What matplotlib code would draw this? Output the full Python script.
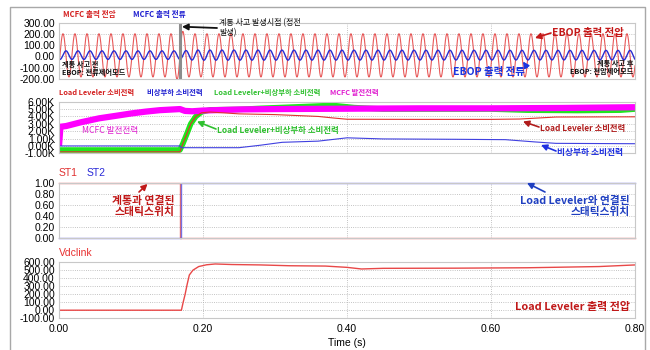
import numpy as np
import matplotlib
matplotlib.use('Agg')
import matplotlib.pyplot as plt
from matplotlib.lines import Line2D

plt.rcParams['font.family'] = ['Liberation Sans', 'Noto Sans CJK KR']
KR = ['Noto Sans CJK KR', 'Liberation Sans']

# ---------------- data ----------------
x_ticks = [0.0, 0.2, 0.4, 0.6, 0.8]
fault_time = 0.168

# panel 1: AC waveforms (60 Hz), envelopes
ac_freq_hz = 60.0
volt_env_t = [0.0, 0.160, 0.168, 0.176, 0.8]
volt_env_amp = [192, 192, 235, 192, 192]
volt_offset = 10
volt_first_peak = 0.0055
curr_env_t = [0.0, 0.168, 0.190, 0.8]
curr_env_amp = [38, 38, 45, 42]
curr_offset = 12
curr_first_peak = 0.0097

# panel 2: powers
mcfc_t = [0.0, 0.002, 0.01, 0.03, 0.056, 0.08, 0.10, 0.12, 0.14, 0.168, 0.175, 0.185, 0.20, 0.25, 0.30, 0.40, 0.50, 0.60, 0.70, 0.80]
mcfc_p = [0, 2600, 2700, 3200, 3750, 4100, 4400, 4650, 4850, 5000, 4750, 4700, 4800, 4950, 5000, 5050, 5100, 5100, 5150, 5250]
total_t = [0.0, 0.168, 0.172, 0.177, 0.183, 0.19, 0.198, 0.21, 0.25, 0.28, 0.33, 0.38, 0.41, 0.45, 0.60, 0.65, 0.72, 0.78, 0.80]
total_p = [-550, -550, 300, 1500, 3000, 4000, 4600, 4900, 4950, 5100, 5300, 5500, 5200, 5000, 5000, 4850, 4800, 4850, 5000]
ll_t = [0.0, 0.168, 0.172, 0.177, 0.183, 0.19, 0.198, 0.21, 0.25, 0.30, 0.36, 0.38, 0.40, 0.50, 0.60, 0.64, 0.69, 0.80]
ll_p = [-800, -800, 300, 1500, 3000, 4000, 4500, 4600, 4350, 4250, 4000, 3800, 3620, 3600, 3600, 3650, 3920, 3950]
em_t = [0.0, 0.168, 0.170, 0.25, 0.28, 0.31, 0.36, 0.40, 0.45, 0.55, 0.62, 0.66, 0.69, 0.80]
em_p = [0, 0, -240, -240, 100, 490, 650, 1100, 950, 900, 850, 550, 350, 300]

# panel 3: static switches
st1_t = [0.0, 0.168, 0.168, 0.8]
st1 = [1, 1, 0, 0]
st2_t = [0.0, 0.1695, 0.1695, 0.8]
st2 = [0, 0, 1, 1]

# panel 4: DC link voltage
vdc_t = [0.0, 0.170, 0.1725, 0.175, 0.178, 0.181, 0.186, 0.194, 0.205, 0.217, 0.24, 0.28, 0.32, 0.37, 0.40, 0.42, 0.45, 0.55, 0.65, 0.75, 0.80]
vdc = [0, 0, 100, 190, 320, 435, 495, 540, 562, 572, 565, 560, 550, 546, 530, 510, 518, 520, 525, 540, 560]

# ---------------- figure ----------------
W, H = 650, 350
fig = plt.figure(figsize=(6.5, 3.5), dpi=100)

def F(x, y):
    return (x / W, 1 - y / H)

def rect(l, t, r, b):
    return [l / W, 1 - b / H, (r - l) / W, (b - t) / H]

# outer frame
fig.add_artist(Line2D([10 / W, 10 / W, 645 / W, 645 / W], [0, 1 - 7 / H, 1 - 7 / H, 0],
                      transform=fig.transFigure, color='#a8a8a8', lw=1.0))

def style(ax, ylim, yticks, labels, show_x=False):
    ax.set_xlim(0, 0.8)
    ax.set_ylim(*ylim)
    ax.set_xticks(x_ticks)
    ax.set_yticks(yticks)
    ax.set_yticklabels(labels, fontsize=7.5)
    if show_x:
        ax.set_xticklabels([f"{v:.2f}" for v in x_ticks], fontsize=7.5)
    else:
        ax.set_xticklabels([])
    ax.tick_params(length=0, pad=3)
    ax.tick_params(axis='x', pad=4)
    ax.grid(True, ls=':', color='#b0b0b0', lw=0.6)
    ax.set_axisbelow(True)
    for s in ax.spines.values():
        s.set_color('#c8c8c8')
        s.set_linewidth(0.8)

t = np.linspace(0, 0.8, 16001)
w = 2 * np.pi * ac_freq_hz

# panel 1
ax1 = fig.add_axes(rect(59, 22.7, 635, 79))
v = volt_offset + np.interp(t, volt_env_t, volt_env_amp) * np.cos(w * (t - volt_first_peak))
i = curr_offset + np.interp(t, curr_env_t, curr_env_amp) * np.cos(w * (t - curr_first_peak))
ax1.plot(t, v, color='#e43c3c', lw=0.8, alpha=0.85)
ax1.plot(t, i, color='#2a2ad0', lw=1.0)
ax1.axvline(fault_time, color='#8c8c8c', lw=2.2)
y1 = [-200, -100, 0, 100, 200, 300]
style(ax1, (-200, 300), y1, [f"{a:.2f}" for a in y1])

# panel 2
ax2 = fig.add_axes(rect(59, 101.7, 635, 153.3))
ax2.plot(total_t, total_p, color='#1ee61e', lw=4, solid_capstyle='butt')
ax2.plot(mcfc_t, mcfc_p, color='#ff00ff', lw=4.5, solid_capstyle='butt')
ax2.plot(ll_t, ll_p, color='#e03030', lw=0.8)
ax2.plot(em_t, em_p, color='#4040e0', lw=0.8)
y2 = [-1000, 0, 1000, 2000, 3000, 4000, 5000, 6000]
style(ax2, (-1000, 6000), y2, [f"{a / 1000:.2f}K" for a in y2])

# panel 3
ax3 = fig.add_axes(rect(59, 183, 635, 238))
ax3.plot(st1_t, st1, color='#e04040', lw=1.0, alpha=0.75, clip_on=False)
ax3.plot(st2_t, st2, color='#4040e0', lw=1.0, alpha=0.7, clip_on=False)
y3 = [0, 0.2, 0.4, 0.6, 0.8, 1.0]
style(ax3, (0, 1), y3, [f"{a:.2f}" for a in y3])

# panel 4
ax4 = fig.add_axes(rect(59, 261.7, 635, 318.3))
ax4.plot(vdc_t, vdc, color='#e84848', lw=1.0)
y4 = [-100, 0, 100, 200, 300, 400, 500, 600]
style(ax4, (-100, 600), y4, [f"{a:.2f}" for a in y4], show_x=True)
fig.text(*F(347, 343), "Time (s)", fontsize=7.5, ha='center', va='center')

# ---------------- legends / labels ----------------
def txt(x, y, s, color, size, weight='bold', ha='left', fam=KR, ls=1.2):
    fig.text(*F(x, y), s, color=color, fontsize=size, fontweight=weight, ha=ha, va='center',
             family=fam, linespacing=ls, multialignment=ha)

def arrow(x0, y0, x1, y1, color, lw=1.2):
    fig.add_artist(matplotlib.patches.FancyArrowPatch(
        F(x0, y0), F(x1, y1), transform=fig.transFigure, arrowstyle='-|>,head_length=3.5,head_width=1.8',
        color=color, lw=lw, shrinkA=0, shrinkB=0))

# panel 1
txt(63, 15, "MCFC 출력 전압", '#d42020', 5.5)
txt(133, 15, "MCFC 출력 전류", '#2020d0', 5.5)
txt(219, 27.5, "계통 사고 발생시점 (정전\n발생)", '#111111', 5.8, weight='normal', ls=1.1)
arrow(217, 28, 182, 26.7, '#111111', lw=1.3)
txt(62, 68.5, "계통 사고 전\nEBOP: 전류제어모드", '#111111', 5.2, ls=1.15)
txt(633, 67.5, "계통 사고 후\nEBOP: 전압제어모드", '#111111', 5.2, ha='right', ls=1.15)
txt(552, 33, "EBOP 출력 전압", '#c41818', 7.5)
arrow(551, 33, 535, 38, '#c41818')
txt(453, 72, "EBOP 출력 전류", '#1a36e0', 7.5)
arrow(527, 67.5, 523, 61.5, '#1a36e0')

# panel 2
txt(59, 92, "Load Leveler 소비전력", '#d42020', 5.3)
txt(147, 92, "비상부하 소비전력", '#2020d0', 5.3)
txt(214, 92, "Load Leveler+비상부하 소비전력", '#30c030', 5.3)
txt(330, 92, "MCFC 발전전력", '#e020d0', 5.3)
txt(82, 130, "MCFC 발전전력", '#e020d0', 6.2, weight='normal')
txt(217, 130, "Load Leveler+비상부하 소비전력", '#30c030', 6.1)
arrow(216, 129, 197, 121.5, '#30c030')
txt(540, 128.3, "Load Leveler 소비전력", '#b01c1c', 6.0)
arrow(539, 127, 523, 121.5, '#b01c1c')
txt(557, 152.7, "비상부하 소비전력", '#1f30e0', 6.3)
arrow(556, 151, 541, 145, '#1f30e0')

# panel 3
txt(59, 173, "ST1", '#e03030', 7.5, weight='normal', fam=['Liberation Sans'])
txt(87, 173, "ST2", '#2a2ad8', 7.5, weight='normal', fam=['Liberation Sans'])
txt(175, 206.5, "계통과 연결된\n스태틱스위치", '#c01818', 7.8, ha='right', ls=1.15)
arrow(139, 192, 147.5, 184, '#c01818')
txt(630, 206.5, "Load Leveler와 연결된\n스태틱스위치", '#1f3fc0', 7.7, ha='right', ls=1.15)
arrow(545, 192, 527, 183, '#1f3fc0')

# panel 4
txt(59, 253, "Vdclink", '#e83030', 7.5, weight='normal', fam=['Liberation Sans'])
txt(630, 307, "Load Leveler 출력 전압", '#c01818', 7.9, ha='right')

fig.savefig('out.png', dpi=100)
